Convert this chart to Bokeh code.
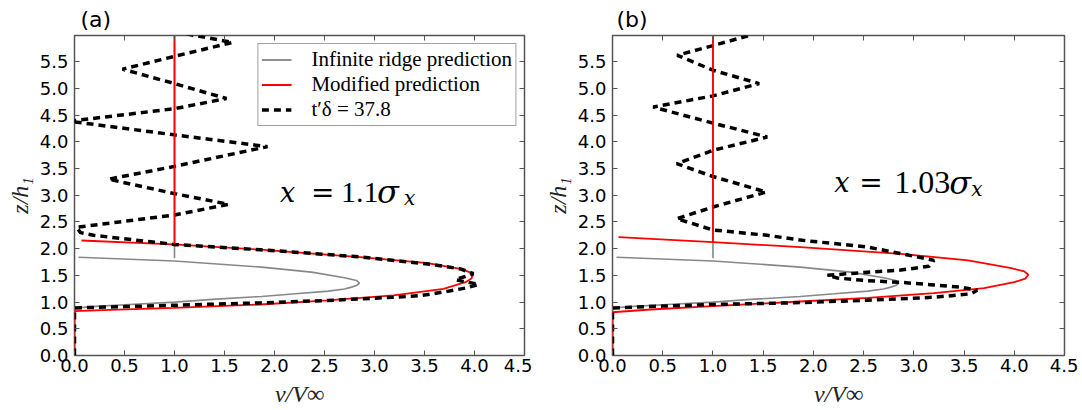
from bokeh.plotting import figure
from bokeh.layouts import row
from bokeh.models import Range1d, FixedTicker, PrintfTickFormatter, LinearAxis, Label
from bokeh.embed import file_html
from bokeh.resources import INLINE

# ---------------- data ----------------
x_ticks = [0.0, 0.5, 1.0, 1.5, 2.0, 2.5, 3.0, 3.5, 4.0, 4.5]
y_ticks = [0.0, 0.5, 1.0, 1.5, 2.0, 2.5, 3.0, 3.5, 4.0, 4.5, 5.0, 5.5]

# Infinite ridge prediction (same in both panels)
ridge_v = [0.0, 0.0, 0.21, 0.55, 1.0, 1.38, 1.87, 2.21, 2.54, 2.70, 2.77, 2.82, 2.85, 2.82, 2.70, 2.37, 1.87, 1.0, 0.04]
ridge_z = [0.0, 0.89, 0.92, 0.955, 1.0, 1.05, 1.105, 1.155, 1.205, 1.245, 1.28, 1.31, 1.355, 1.405, 1.455, 1.56, 1.655, 1.77, 1.84]
far_v = [1.0, 1.0]
ridge_far_z = [1.82, 6.0]

# Modified prediction, panel (a)
mod_a_v = [0.0, 0.0, 0.36, 0.99, 1.86, 2.53, 3.19, 3.69, 3.91, 3.97, 3.98, 3.95, 3.86, 3.53, 2.86, 1.86, 0.99, 0.07]
mod_a_z = [0.0, 0.83, 0.855, 0.893, 0.955, 1.03, 1.124, 1.248, 1.373, 1.44, 1.50, 1.56, 1.62, 1.73, 1.84, 1.98, 2.079, 2.153]
mod_a_far_z = [2.08, 6.0]

# Modified prediction, panel (b)
mod_b_v = [0.0, 0.0, 0.38, 1.0, 1.87, 2.54, 3.20, 3.70, 4.0, 4.11, 4.14, 4.10, 3.97, 3.54, 2.87, 1.87, 1.0, 0.06]
mod_b_z = [0.0, 0.81, 0.861, 0.924, 1.011, 1.08, 1.167, 1.261, 1.373, 1.44, 1.511, 1.575, 1.635, 1.779, 1.904, 2.029, 2.122, 2.216]
mod_b_far_z = [2.12, 6.0]

# Simulation t'_delta = 37.8, panel (a)
obs_a_v = [0.0, 0.0, 0.5, 0.99, 1.86, 2.53, 3.19, 3.46, 3.73, 3.93, 4.04, 3.81, 3.99, 3.86, 3.59, 2.86, 1.86,
           0.99, 0.19, 0.06, 0.02, 1.0, 1.54, 1.0, 0.34, 1.0, 1.93, 1.0, -0.05, 1.0, 1.52, 1.0, 0.48, 1.0, 1.58, 1.12]
obs_a_z = [0.0, 0.89, 0.915, 0.94, 0.985, 1.03, 1.09, 1.12, 1.20, 1.27, 1.33, 1.42, 1.53, 1.62, 1.70, 1.845, 1.98,
           2.08, 2.25, 2.30, 2.40, 2.63, 2.83, 3.03, 3.30, 3.54, 3.91, 4.13, 4.385, 4.62, 4.81, 5.09, 5.36, 5.60, 5.86, 6.02]

# Simulation, panel (b)
obs_b_v = [0.0, 0.0, 0.5, 1.0, 1.87, 2.54, 3.20, 3.57, 3.63, 3.47, 3.20, 2.87, 2.54, 2.24, 2.14, 2.54, 2.87, 3.15,
           3.20, 2.97, 2.54, 1.87, 1.54, 1.0, 0.64, 1.0, 1.53, 1.0, 0.64, 1.0, 1.54, 1.0, 0.405, 1.0, 1.46, 1.0,
           0.645, 1.0, 1.36, 1.40]
obs_b_z = [0.0, 0.89, 0.925, 0.955, 0.99, 1.035, 1.09, 1.155, 1.22, 1.28, 1.32, 1.37, 1.40, 1.45, 1.50, 1.56, 1.60, 1.67,
           1.78, 1.87, 2.03, 2.16, 2.25, 2.35, 2.56, 2.78, 3.06, 3.35, 3.59, 3.84, 4.09, 4.35, 4.65, 4.86, 5.09, 5.34,
           5.62, 5.80, 5.99, 6.02]

labels = ["Infinite ridge prediction", "Modified prediction", "t\u2032\u03b4 = 37.8"]

GRAY = "#888888"
RED = "#ff0000"
FRAME = "#555555"


def make_panel(left_border, frame_w, right_border, mod_v, mod_z, mod_far_z, obs_v, obs_z,
               panel_tag, tag_offset, ann_x, ann_z, ann_coef, ann_offsets, with_legend):
    p = figure(frame_width=frame_w, frame_height=320, output_backend="svg", toolbar_location=None,
               x_range=Range1d(0, 4.5), y_range=Range1d(0, 5.99),
               min_border_left=left_border, min_border_right=right_border,
               min_border_top=35, min_border_bottom=55)
    p.background_fill_color = "white"
    p.border_fill_color = "white"
    p.outline_line_color = FRAME
    p.outline_line_width = 1.5
    p.xgrid.visible = False
    p.ygrid.visible = False

    p.title.text = panel_tag
    p.title.align = "left"
    p.title.offset = tag_offset
    p.title.standoff = 7
    p.title.text_font = "DejaVu Sans"
    p.title.text_font_size = "22px"
    p.title.text_font_style = "normal"
    p.title.text_color = "black"

    def lbl(i):
        return {"legend_label": labels[i]} if with_legend else {}

    # infinite ridge prediction
    p.line(ridge_v, ridge_z, line_color=GRAY, line_width=1.6, **lbl(0))
    p.line(far_v, ridge_far_z, line_color=GRAY, line_width=1.6, **lbl(0))
    # modified prediction
    p.line(mod_v, mod_z, line_color=RED, line_width=1.8, **lbl(1))
    # simulation
    p.line(obs_v, obs_z, line_color="black", line_width=3.5, line_dash="7 5", **lbl(2))
    p.line(far_v, mod_far_z, line_color=RED, line_width=1.8, **lbl(1))

    # axes
    for ax, ticks in ((p.xaxis[0], x_ticks), (p.yaxis[0], y_ticks)):
        ax.ticker = FixedTicker(ticks=ticks)
        ax.formatter = PrintfTickFormatter(format="%.1f")
        ax.axis_line_color = None
        ax.major_tick_in = 5
        ax.major_tick_out = 0
        ax.major_tick_line_color = FRAME
        ax.minor_tick_line_color = None
        ax.major_label_text_font = "DejaVu Sans"
        ax.major_label_text_font_size = "18px"
        ax.major_label_text_color = "black"
        ax.major_label_text_line_height = 1.0
        ax.axis_label_text_font = "Liberation Serif"
        ax.axis_label_text_font_style = "italic"
        ax.axis_label_text_font_size = "24px"
        ax.axis_label_text_line_height = 1.0
        ax.axis_label_text_color = "#222222"
    p.xaxis[0].axis_label = "v/V\u221e"
    p.yaxis[0].axis_label = "z/h\u2081"
    p.xaxis[0].major_label_standoff = 3
    p.xaxis[0].axis_label_standoff = 6
    p.yaxis[0].major_label_standoff = 6
    p.yaxis[0].axis_label_standoff = 4

    for loc, ticks in (("above", x_ticks), ("right", y_ticks)):
        ax = LinearAxis(ticker=FixedTicker(ticks=ticks), major_label_text_font_size="1px",
                        major_label_text_color=None,
                        major_tick_in=5, major_tick_out=0, major_tick_line_color=FRAME,
                        minor_tick_line_color=None, axis_line_color=None, major_label_standoff=0)
        p.add_layout(ax, loc)

    # annotation  x = c sigma_x  (baseline aligned pieces)
    o_eq, o_num, o_sig, o_sub, num_size = ann_offsets
    common = dict(x=ann_x, y=ann_z, text_baseline="alphabetic", text_color="black")
    p.add_layout(Label(text="x", text_font="DejaVu Serif", text_font_style="italic",
                       text_font_size="27px", **common))
    p.add_layout(Label(x_offset=o_eq, text="=", text_font="DejaVu Serif",
                       text_font_size="28px", **common))
    p.add_layout(Label(x_offset=o_num, text=ann_coef, text_font="Liberation Serif",
                       text_font_size=num_size, **common))
    p.add_layout(Label(x_offset=o_sig, text="\u03c3", text_font="DejaVu Serif",
                       text_font_style="italic", text_font_size="32px", **common))
    p.add_layout(Label(x_offset=o_sub, y_offset=-6, text="x", text_font="DejaVu Serif",
                       text_font_style="italic", text_font_size="20px", **common))

    if with_legend:
        lg = p.legend[0]
        lg.location = "top_right"
        lg.margin = 8
        lg.padding = 3
        lg.spacing = 0
        lg.glyph_width = 30
        lg.glyph_height = 23
        lg.label_height = 23
        lg.label_standoff = 20
        lg.label_text_font = "Liberation Serif"
        lg.label_text_font_size = "21px"
        lg.label_text_line_height = 1.0
        lg.label_text_color = "black"
        lg.border_line_color = "#444444"
        lg.border_line_width = 1.5
        lg.background_fill_color = "white"
        lg.background_fill_alpha = 1.0
    return p


pa = make_panel(74, 450, 8, mod_a_v, mod_a_z, mod_a_far_z, obs_a_v, obs_a_z,
                "(a)", 6, 2.054, 3.06, "1.1", (31, 61, 97, 124, "30px"), True)
pb = make_panel(80, 452, 14, mod_b_v, mod_b_z, mod_b_far_z, obs_b_v, obs_b_z,
                "(b)", 4, 2.208, 3.23, "1.03", (25, 60, 115, 137, "32px"), False)

layout = row(pa, pb, spacing=0)
open("out.html", "w").write(file_html(layout, INLINE))
